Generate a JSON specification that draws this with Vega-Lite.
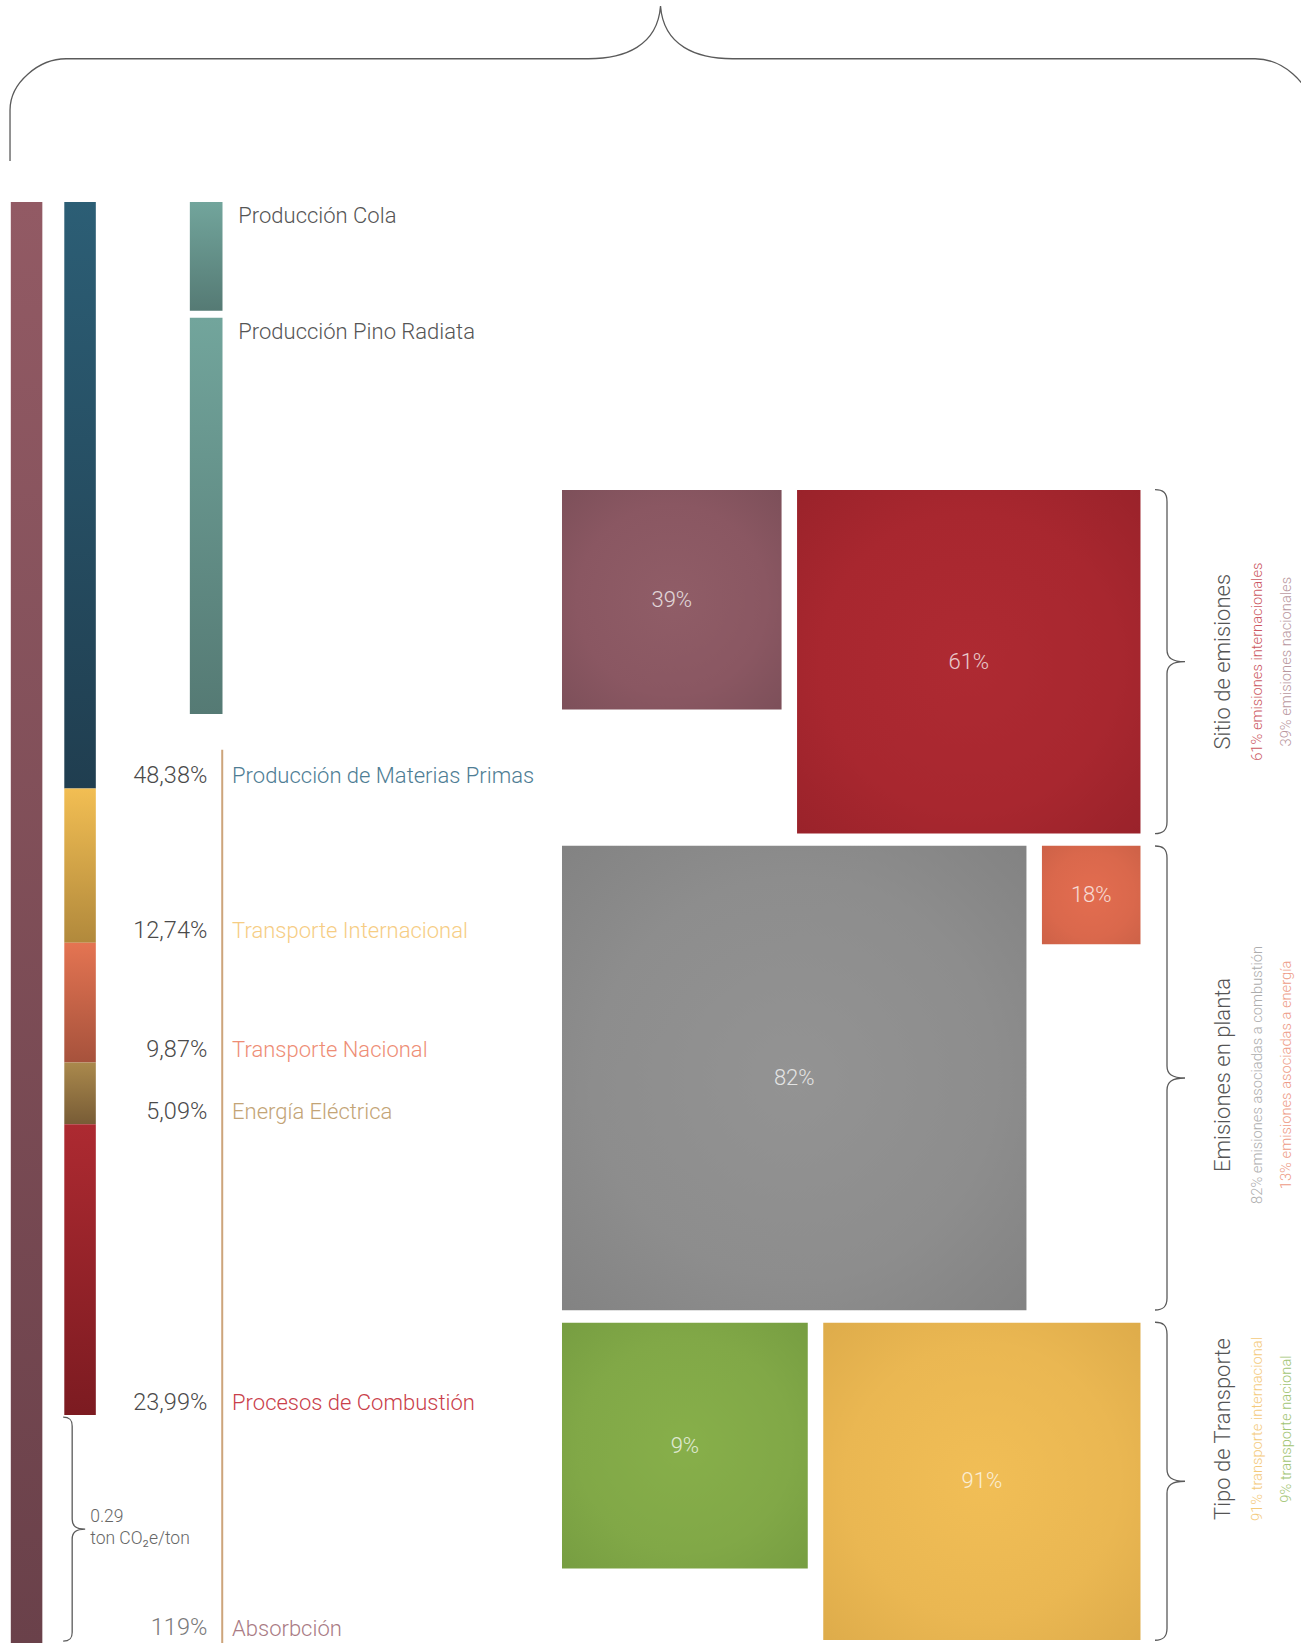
{
  "$schema": "https://vega.github.io/schema/vega-lite/v6.json",
  "width": 1301,
  "height": 1643,
  "padding": 0,
  "autosize": {"type": "none"},
  "background": "#ffffff",
  "config": {"view": {"stroke": null}, "font": "Roboto", "text": {"fontWeight": 300}},
  "datasets": {
    "absorcion": [{"concepto": "Absorbción", "valor": 119}],
    "fuentes": [
      {"fuente": "Producción de Materias Primas", "valor": 48.38},
      {"fuente": "Transporte Internacional", "valor": 12.74},
      {"fuente": "Transporte Nacional", "valor": 9.87},
      {"fuente": "Energía Eléctrica", "valor": 5.09},
      {"fuente": "Procesos de Combustión", "valor": 23.99}
    ],
    "materias": [
      {"insumo": "Producción Cola", "valor": 9.55},
      {"insumo": "Producción Pino Radiata", "valor": 33.27}
    ],
    "huella": [{"valor": 0.29, "unidad": "ton CO₂e/ton"}],
    "cuadros": [
      {"grupo": "Sitio de emisiones", "concepto": "Emisiones nacionales", "valor": 39, "etiqueta": "39%"},
      {"grupo": "Sitio de emisiones", "concepto": "Emisiones internacionales", "valor": 61, "etiqueta": "61%"},
      {"grupo": "Emisiones en planta", "concepto": "Procesos de Combustión", "valor": 23.99, "etiqueta": "82%"},
      {"grupo": "Emisiones en planta", "concepto": "Energía Eléctrica", "valor": 5.09, "etiqueta": "18%"},
      {"grupo": "Tipo de Transporte", "concepto": "Transporte Nacional", "valor": 9.87, "etiqueta": "9%"},
      {"grupo": "Tipo de Transporte", "concepto": "Transporte Internacional", "valor": 12.74, "etiqueta": "91%"}
    ],
    "grupos": [
      {"grupo": "Sitio de emisiones", "nota1": "61% emisiones internacionales", "nota2": "39% emisiones nacionales"},
      {"grupo": "Emisiones en planta", "nota1": "82% emisiones asociadas a combustión", "nota2": "13% emisiones asociadas a energía"},
      {"grupo": "Tipo de Transporte", "nota1": "91% transporte internacional", "nota2": "9% transporte nacional"}
    ]
  },
  "resolve": {"scale": {"y": "independent"}},
  "layer": [
    {
      "layer": [
        {
          "data": {"name": "absorcion"},
          "mark": {"type": "rect", "fill": {"gradient": "linear", "x1": 0, "y1": 0, "x2": 0, "y2": 1, "stops": [{"offset": 0, "color": "#925a64"}, {"offset": 1, "color": "#6a414a"}]}},
          "encoding": {
            "x": {"datum": -97.9, "type": "quantitative", "scale": {"domain": [-99.82, 131.26], "nice": false, "zero": false}, "axis": null},
            "x2": {"datum": -92.3},
            "y": {"field": "valor", "type": "quantitative", "scale": {"domain": [-16.67, 118.89], "reverse": true, "nice": false, "zero": false}, "axis": null},
            "y2": {"datum": 0}
          }
        },
        {
          "data": {"name": "fuentes"},
          "transform": [
            {"window": [{"op": "row_number", "as": "orden"}]},
            {"stack": "valor", "groupby": [], "sort": [{"field": "orden", "order": "ascending"}], "as": ["inicio", "fin"]}
          ],
          "mark": {"type": "rect"},
          "encoding": {
            "x": {"datum": -88.4, "type": "quantitative", "scale": {"domain": [-99.82, 131.26], "nice": false, "zero": false}, "axis": null},
            "x2": {"datum": -82.8},
            "y": {"field": "inicio", "type": "quantitative", "scale": {"domain": [-16.67, 118.89], "reverse": true, "nice": false, "zero": false}, "axis": null},
            "y2": {"field": "fin"},
            "fill": {
              "condition": [
                {"test": "datum.fuente === 'Producción de Materias Primas'", "value": {"gradient": "linear", "x1": 0, "y1": 0, "x2": 0, "y2": 1, "stops": [{"offset": 0, "color": "#2c5e75"}, {"offset": 1, "color": "#203e50"}]}},
                {"test": "datum.fuente === 'Transporte Internacional'", "value": {"gradient": "linear", "x1": 0, "y1": 0, "x2": 0, "y2": 1, "stops": [{"offset": 0, "color": "#f2be53"}, {"offset": 1, "color": "#b1893c"}]}},
                {"test": "datum.fuente === 'Transporte Nacional'", "value": {"gradient": "linear", "x1": 0, "y1": 0, "x2": 0, "y2": 1, "stops": [{"offset": 0, "color": "#e47452"}, {"offset": 1, "color": "#a6523c"}]}},
                {"test": "datum.fuente === 'Energía Eléctrica'", "value": {"gradient": "linear", "x1": 0, "y1": 0, "x2": 0, "y2": 1, "stops": [{"offset": 0, "color": "#aa894c"}, {"offset": 1, "color": "#785c36"}]}},
                {"test": "datum.fuente === 'Procesos de Combustión'", "value": {"gradient": "linear", "x1": 0, "y1": 0, "x2": 0, "y2": 1, "stops": [{"offset": 0, "color": "#ad2a31"}, {"offset": 1, "color": "#7c1b21"}]}}
              ],
              "value": "#888888"
            }
          }
        },
        {
          "data": {"name": "materias"},
          "transform": [
            {"window": [{"op": "row_number", "as": "orden"}]},
            {"stack": "valor", "groupby": [], "sort": [{"field": "orden", "order": "ascending"}], "as": ["inicio", "fin"]}
          ],
          "mark": {"type": "rect", "y2Offset": -7, "fill": {"gradient": "linear", "x1": 0, "y1": 0, "x2": 0, "y2": 1, "stops": [{"offset": 0, "color": "#72a59c"}, {"offset": 1, "color": "#557a74"}]}},
          "encoding": {
            "x": {"datum": -66.1, "type": "quantitative", "scale": {"domain": [-99.82, 131.26], "nice": false, "zero": false}, "axis": null},
            "x2": {"datum": -60.3},
            "y": {"field": "inicio", "type": "quantitative", "scale": {"domain": [-16.67, 118.89], "reverse": true, "nice": false, "zero": false}, "axis": null},
            "y2": {"field": "fin"}
          }
        },
        {
          "data": {"name": "materias"},
          "transform": [
            {"window": [{"op": "row_number", "as": "orden"}]},
            {"stack": "valor", "groupby": [], "sort": [{"field": "orden", "order": "ascending"}], "as": ["inicio", "fin"]}
          ],
          "mark": {"type": "text", "align": "left", "baseline": "top", "fontSize": 22, "color": "#555555", "yOffset": 4},
          "encoding": {
            "x": {"datum": -57.5, "type": "quantitative", "scale": {"domain": [-99.82, 131.26], "nice": false, "zero": false}, "axis": null},
            "y": {"field": "inicio", "type": "quantitative", "scale": {"domain": [-16.67, 118.89], "reverse": true, "nice": false, "zero": false}, "axis": null},
            "text": {"field": "insumo"}
          }
        },
        {
          "data": {"name": "absorcion"},
          "mark": {"type": "rule", "color": "#cda57b", "strokeWidth": 2},
          "encoding": {
            "x": {"datum": -60.35, "type": "quantitative", "scale": {"domain": [-99.82, 131.26], "nice": false, "zero": false}, "axis": null},
            "y": {"field": "valor", "type": "quantitative", "scale": {"domain": [-16.67, 118.89], "reverse": true, "nice": false, "zero": false}, "axis": null},
            "y2": {"datum": 45.2}
          }
        },
        {
          "data": {"name": "fuentes"},
          "transform": [
            {"window": [{"op": "row_number", "as": "orden"}]},
            {"stack": "valor", "groupby": [], "sort": [{"field": "orden", "order": "ascending"}], "as": ["inicio", "fin"]},
            {"calculate": "replace(format(datum.valor, '.2f'), '.', ',') + '%'", "as": "etiqueta"}
          ],
          "mark": {"type": "text", "align": "right", "baseline": "bottom", "fontSize": 23.5, "color": "#4a4a4a"},
          "encoding": {
            "x": {"datum": -63.0, "type": "quantitative", "scale": {"domain": [-99.82, 131.26], "nice": false, "zero": false}, "axis": null},
            "y": {"field": "fin", "type": "quantitative", "scale": {"domain": [-16.67, 118.89], "reverse": true, "nice": false, "zero": false}, "axis": null},
            "text": {"field": "etiqueta"}
          }
        },
        {
          "data": {"name": "fuentes"},
          "transform": [
            {"window": [{"op": "row_number", "as": "orden"}]},
            {"stack": "valor", "groupby": [], "sort": [{"field": "orden", "order": "ascending"}], "as": ["inicio", "fin"]}
          ],
          "mark": {"type": "text", "align": "left", "baseline": "bottom", "fontSize": 22},
          "encoding": {
            "x": {"datum": -58.6, "type": "quantitative", "scale": {"domain": [-99.82, 131.26], "nice": false, "zero": false}, "axis": null},
            "y": {"field": "fin", "type": "quantitative", "scale": {"domain": [-16.67, 118.89], "reverse": true, "nice": false, "zero": false}, "axis": null},
            "text": {"field": "fuente"},
            "color": {
              "field": "fuente", "type": "nominal", "legend": null,
              "scale": {
                "domain": ["Producción de Materias Primas", "Transporte Internacional", "Transporte Nacional", "Energía Eléctrica", "Procesos de Combustión"],
                "range": ["#4e7d94", "#f6cd84", "#ee8d75", "#c3a476", "#c9404a"]
              }
            }
          }
        },
        {
          "data": {"name": "absorcion"},
          "transform": [{"calculate": "format(datum.valor, 'd') + '%'", "as": "etiqueta"}],
          "mark": {"type": "text", "align": "right", "baseline": "bottom", "fontSize": 23.5, "color": "#7a7a7a", "yOffset": -4},
          "encoding": {
            "x": {"datum": -63.0, "type": "quantitative", "scale": {"domain": [-99.82, 131.26], "nice": false, "zero": false}, "axis": null},
            "y": {"field": "valor", "type": "quantitative", "scale": {"domain": [-16.67, 118.89], "reverse": true, "nice": false, "zero": false}, "axis": null},
            "text": {"field": "etiqueta"}
          }
        },
        {
          "data": {"name": "absorcion"},
          "mark": {"type": "text", "align": "left", "baseline": "bottom", "fontSize": 22, "color": "#a97b84", "yOffset": -3},
          "encoding": {
            "x": {"datum": -58.6, "type": "quantitative", "scale": {"domain": [-99.82, 131.26], "nice": false, "zero": false}, "axis": null},
            "y": {"field": "valor", "type": "quantitative", "scale": {"domain": [-16.67, 118.89], "reverse": true, "nice": false, "zero": false}, "axis": null},
            "text": {"field": "concepto"}
          }
        },
        {
          "data": {"name": "huella"},
          "mark": {"type": "point", "shape": "M -9,-112 C -3,-112 0,-110 0,-103 L 0,-10 C 0,-3 4,0 13,0 C 4,0 0,3 0,10 L 0,103 C 0,110 -3,112 -9,112", "size": 4, "filled": false, "color": "#5a5a5a", "strokeWidth": 1.3, "opacity": 1},
          "encoding": {
            "x": {"datum": -87.0, "type": "quantitative", "scale": {"domain": [-99.82, 131.26], "nice": false, "zero": false}, "axis": null},
            "y": {"datum": 109.5, "type": "quantitative", "scale": {"domain": [-16.67, 118.89], "reverse": true, "nice": false, "zero": false}, "axis": null}
          }
        },
        {
          "data": {"name": "huella"},
          "transform": [{"calculate": "[format(datum.valor, '.2f'), datum.unidad]", "as": "texto"}],
          "mark": {"type": "text", "align": "left", "baseline": "middle", "fontSize": 17.5, "lineHeight": 21.5, "color": "#666666"},
          "encoding": {
            "x": {"datum": -83.8, "type": "quantitative", "scale": {"domain": [-99.82, 131.26], "nice": false, "zero": false}, "axis": null},
            "y": {"datum": 108.5, "type": "quantitative", "scale": {"domain": [-16.67, 118.89], "reverse": true, "nice": false, "zero": false}, "axis": null},
            "text": {"field": "texto"}
          }
        },
        {
          "data": {"values": [{"llave": "total"}]},
          "mark": {"type": "point", "shape": "M -650.5,155 L -650.5,104 C -650.5,76 -621,52.7 -594.5,52.7 L -72,52.7 C -36,52.7 -3,40 0,0 C 3,40 36,52.7 72,52.7 L 594.5,52.7 C 621,52.7 650.5,76 650.5,104 L 650.5,155", "size": 4, "filled": false, "color": "#5a5a5a", "strokeWidth": 1.3, "opacity": 1},
          "encoding": {
            "x": {"datum": 17.5, "type": "quantitative", "scale": {"domain": [-99.82, 131.26], "nice": false, "zero": false}, "axis": null},
            "y": {"datum": -16.17, "type": "quantitative", "scale": {"domain": [-16.67, 118.89], "reverse": true, "nice": false, "zero": false}, "axis": null}
          }
        }
      ]
    },
    {
      "layer": [
        {
          "data": {"name": "cuadros"},
          "transform": [
            {"joinaggregate": [{"op": "sum", "field": "valor", "as": "total"}], "groupby": ["grupo"]},
            {"window": [{"op": "row_number", "as": "pos"}], "groupby": ["grupo"]},
            {"calculate": "datum.valor / datum.total * 100", "as": "lado"},
            {"calculate": "[0, 63.2, 147.9][indexof(['Sitio de emisiones', 'Emisiones en planta', 'Tipo de Transporte'], datum.grupo)]", "as": "arriba"},
            {"calculate": "datum.pos == 1 ? 0 : 102.75 - datum.lado", "as": "izq"},
            {"calculate": "datum.izq + datum.lado", "as": "der"},
            {"calculate": "datum.arriba + datum.lado", "as": "abajo"}
          ],
          "mark": {"type": "rect"},
          "encoding": {
            "x": {"field": "izq", "type": "quantitative", "scale": {"domain": [-99.82, 131.26], "nice": false, "zero": false}, "axis": null},
            "x2": {"field": "der"},
            "y": {"field": "arriba", "type": "quantitative", "scale": {"domain": [-87.03, 204.8], "reverse": true, "nice": false, "zero": false}, "axis": null},
            "y2": {"field": "abajo"},
            "fill": {
              "condition": [
                {"test": "datum.concepto === 'Emisiones nacionales'", "value": {"gradient": "radial", "x1": 0.5, "y1": 0.5, "r1": 0, "x2": 0.5, "y2": 0.5, "r2": 0.72, "stops": [{"offset": 0, "color": "#905d67"}, {"offset": 0.6, "color": "#8a5762"}, {"offset": 1, "color": "#7c4f59"}]}},
                {"test": "datum.concepto === 'Emisiones internacionales'", "value": {"gradient": "radial", "x1": 0.5, "y1": 0.5, "r1": 0, "x2": 0.5, "y2": 0.5, "r2": 0.72, "stops": [{"offset": 0, "color": "#ae2a32"}, {"offset": 0.6, "color": "#a8272f"}, {"offset": 1, "color": "#99222a"}]}},
                {"test": "datum.concepto === 'Procesos de Combustión'", "value": {"gradient": "radial", "x1": 0.5, "y1": 0.5, "r1": 0, "x2": 0.5, "y2": 0.5, "r2": 0.72, "stops": [{"offset": 0, "color": "#939393"}, {"offset": 0.6, "color": "#8d8d8d"}, {"offset": 1, "color": "#828282"}]}},
                {"test": "datum.concepto === 'Energía Eléctrica'", "value": {"gradient": "radial", "x1": 0.5, "y1": 0.5, "r1": 0, "x2": 0.5, "y2": 0.5, "r2": 0.72, "stops": [{"offset": 0, "color": "#e36d50"}, {"offset": 0.6, "color": "#da684c"}, {"offset": 1, "color": "#cc6147"}]}},
                {"test": "datum.concepto === 'Transporte Nacional'", "value": {"gradient": "radial", "x1": 0.5, "y1": 0.5, "r1": 0, "x2": 0.5, "y2": 0.5, "r2": 0.72, "stops": [{"offset": 0, "color": "#87af4a"}, {"offset": 0.6, "color": "#81a847"}, {"offset": 1, "color": "#769d41"}]}},
                {"test": "datum.concepto === 'Transporte Internacional'", "value": {"gradient": "radial", "x1": 0.5, "y1": 0.5, "r1": 0, "x2": 0.5, "y2": 0.5, "r2": 0.72, "stops": [{"offset": 0, "color": "#f1be56"}, {"offset": 0.6, "color": "#eab752"}, {"offset": 1, "color": "#ddab4a"}]}}
              ],
              "value": "#999999"
            }
          }
        },
        {
          "data": {"name": "cuadros"},
          "transform": [
            {"joinaggregate": [{"op": "sum", "field": "valor", "as": "total"}], "groupby": ["grupo"]},
            {"window": [{"op": "row_number", "as": "pos"}], "groupby": ["grupo"]},
            {"calculate": "datum.valor / datum.total * 100", "as": "lado"},
            {"calculate": "[0, 63.2, 147.9][indexof(['Sitio de emisiones', 'Emisiones en planta', 'Tipo de Transporte'], datum.grupo)]", "as": "arriba"},
            {"calculate": "datum.pos == 1 ? 0 : 102.75 - datum.lado", "as": "izq"},
            {"calculate": "datum.izq + datum.lado / 2", "as": "cx"},
            {"calculate": "datum.arriba + datum.lado / 2", "as": "cy"}
          ],
          "mark": {"type": "text", "align": "center", "baseline": "middle", "fontSize": 22, "color": "#ffffff", "opacity": 0.75},
          "encoding": {
            "x": {"field": "cx", "type": "quantitative", "scale": {"domain": [-99.82, 131.26], "nice": false, "zero": false}, "axis": null},
            "y": {"field": "cy", "type": "quantitative", "scale": {"domain": [-87.03, 204.8], "reverse": true, "nice": false, "zero": false}, "axis": null},
            "text": {"field": "etiqueta"}
          }
        },
        {
          "data": {"name": "cuadros"},
          "transform": [
            {"joinaggregate": [{"op": "sum", "field": "valor", "as": "total"}], "groupby": ["grupo"]},
            {"calculate": "datum.valor / datum.total * 100", "as": "lado"},
            {"calculate": "[0, 63.2, 147.9][indexof(['Sitio de emisiones', 'Emisiones en planta', 'Tipo de Transporte'], datum.grupo)]", "as": "arriba"},
            {"aggregate": [{"op": "max", "field": "lado", "as": "alto"}, {"op": "min", "field": "arriba", "as": "arriba"}], "groupby": ["grupo"]},
            {"calculate": "datum.arriba + datum.alto / 2", "as": "centro"}
          ],
          "mark": {"type": "point", "size": 4, "filled": false, "color": "#5a5a5a", "strokeWidth": 1.3, "opacity": 1},
          "encoding": {
            "x": {"datum": 107.46, "type": "quantitative", "scale": {"domain": [-99.82, 131.26], "nice": false, "zero": false}, "axis": null},
            "y": {"field": "centro", "type": "quantitative", "scale": {"domain": [-87.03, 204.8], "reverse": true, "nice": false, "zero": false}, "axis": null},
            "shape": {
              "field": "grupo", "type": "nominal", "legend": null,
              "scale": {
                "domain": ["Sitio de emisiones", "Emisiones en planta", "Tipo de Transporte"],
                "range": [
                  "M -12,-172 C -4,-172 0,-169 0,-160 L 0,-12 C 0,-4 5,0 18,0 C 5,0 0,4 0,12 L 0,160 C 0,169 -4,172 -12,172",
                  "M -12,-232 C -4,-232 0,-229 0,-220 L 0,-12 C 0,-4 5,0 18,0 C 5,0 0,4 0,12 L 0,220 C 0,229 -4,232 -12,232",
                  "M -12,-159 C -4,-159 0,-156 0,-147 L 0,-12 C 0,-4 5,0 18,0 C 5,0 0,4 0,12 L 0,147 C 0,156 -4,159 -12,159"
                ]
              }
            }
          }
        },
        {
          "data": {"name": "grupos"},
          "transform": [{"calculate": "[30.5, 103.9, 166.8][indexof(['Sitio de emisiones', 'Emisiones en planta', 'Tipo de Transporte'], datum.grupo)]", "as": "centro"}],
          "mark": {"type": "text", "angle": 270, "align": "center", "baseline": "middle", "fontSize": 22, "color": "#555555"},
          "encoding": {
            "x": {"datum": 117.4, "type": "quantitative", "scale": {"domain": [-99.82, 131.26], "nice": false, "zero": false}, "axis": null},
            "y": {"field": "centro", "type": "quantitative", "scale": {"domain": [-87.03, 204.8], "reverse": true, "nice": false, "zero": false}, "axis": null},
            "text": {"field": "grupo"}
          }
        },
        {
          "data": {"name": "grupos"},
          "transform": [{"calculate": "[30.5, 103.9, 166.8][indexof(['Sitio de emisiones', 'Emisiones en planta', 'Tipo de Transporte'], datum.grupo)]", "as": "centro"}],
          "mark": {"type": "text", "angle": 270, "align": "center", "baseline": "middle", "fontSize": 14.7},
          "encoding": {
            "x": {"datum": 123.6, "type": "quantitative", "scale": {"domain": [-99.82, 131.26], "nice": false, "zero": false}, "axis": null},
            "y": {"field": "centro", "type": "quantitative", "scale": {"domain": [-87.03, 204.8], "reverse": true, "nice": false, "zero": false}, "axis": null},
            "text": {"field": "nota1"},
            "fill": {
              "condition": [
                {"test": "datum.grupo === 'Sitio de emisiones'", "value": "#cc5862"},
                {"test": "datum.grupo === 'Emisiones en planta'", "value": "#adadad"}
              ],
              "value": "#f4ca7c"
            }
          }
        },
        {
          "data": {"name": "grupos"},
          "transform": [{"calculate": "[30.5, 103.9, 166.8][indexof(['Sitio de emisiones', 'Emisiones en planta', 'Tipo de Transporte'], datum.grupo)]", "as": "centro"}],
          "mark": {"type": "text", "angle": 270, "align": "center", "baseline": "middle", "fontSize": 14.7},
          "encoding": {
            "x": {"datum": 128.8, "type": "quantitative", "scale": {"domain": [-99.82, 131.26], "nice": false, "zero": false}, "axis": null},
            "y": {"field": "centro", "type": "quantitative", "scale": {"domain": [-87.03, 204.8], "reverse": true, "nice": false, "zero": false}, "axis": null},
            "text": {"field": "nota2"},
            "fill": {
              "condition": [
                {"test": "datum.grupo === 'Sitio de emisiones'", "value": "#b9979e"},
                {"test": "datum.grupo === 'Emisiones en planta'", "value": "#ee9c87"}
              ],
              "value": "#a2c473"
            }
          }
        }
      ]
    }
  ]
}
